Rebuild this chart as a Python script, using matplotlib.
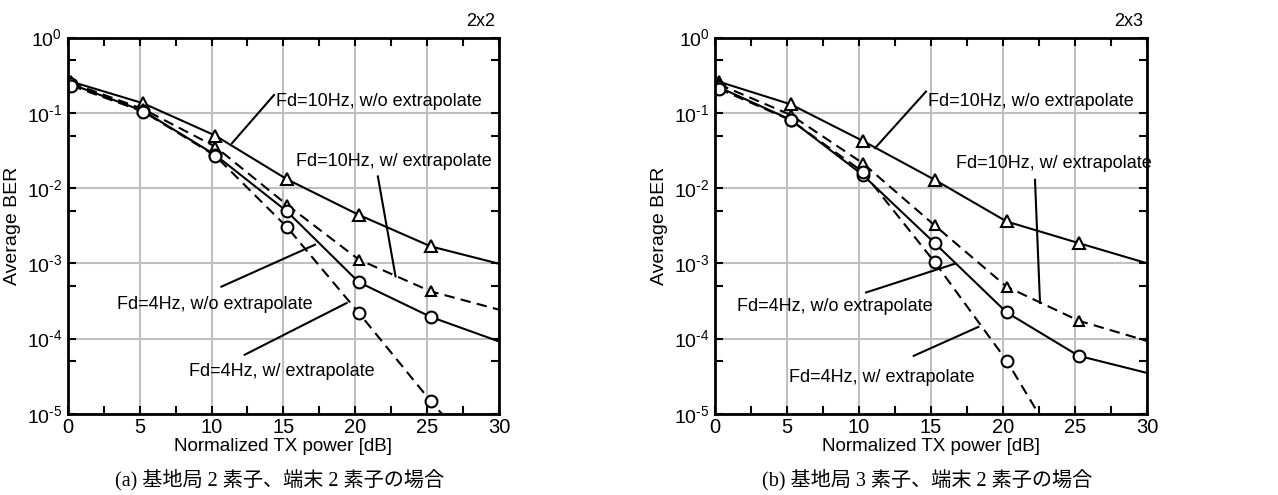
import numpy as np
import matplotlib.pyplot as plt
import matplotlib

plt.rcParams['font.family'] = ['Liberation Sans', 'DejaVu Sans']
plt.rcParams['mathtext.fontset'] = 'custom'
plt.rcParams['mathtext.rm'] = 'Liberation Sans'
plt.rcParams['mathtext.it'] = 'Liberation Sans'

# TX power points (dB); the last point lies past the axis edge
snr = [0.25, 5.25, 10.25, 15.25, 20.25, 25.25, 30.25]

# (a) 2x2
a_10_wo = [0.26, 0.134, 0.050, 0.0131, 0.0044, 0.00168, 0.00096]
a_10_w = [0.25, 0.112, 0.0357, 0.0060, 0.00112, 0.000424, 0.000235]
a_4_wo = [0.24, 0.106, 0.0277, 0.0049, 0.00056, 0.000194, 0.000088]
a_4_w = [0.23, 0.104, 0.027, 0.00303, 0.000219, 0.0000147, 0.0000012]

# (b) 2x3
b_10_wo = [0.26, 0.130, 0.0425, 0.0129, 0.0036, 0.00186, 0.00097]
b_10_w = [0.24, 0.094, 0.0215, 0.0032, 0.00049, 0.000173, 0.000090]
b_4_wo = [0.22, 0.081, 0.015, 0.00186, 0.000223, 0.000059, 0.000034]
b_4_w = [0.21, 0.080, 0.0165, 0.00104, 0.000051, 0.0000013, 0.00000005]

xticks = [0, 5, 10, 15, 20, 25, 30]
yticks = [1e-5, 1e-4, 1e-3, 1e-2, 1e-1, 1e0]
ytick_labels = [r'$10^{\text{-5}}$', r'$10^{\text{-4}}$', r'$10^{\text{-3}}$',
                r'$10^{\text{-2}}$', r'$10^{\text{-1}}$', r'$10^{0}$']

labels = ['Fd=10Hz, w/o extrapolate', 'Fd=10Hz, w/ extrapolate',
          'Fd=4Hz, w/o extrapolate', 'Fd=4Hz, w/ extrapolate']

panels = [
    dict(title='2x2', caption='(a) 基地局 2 素子、端末 2 素子の場合',
         series=[a_10_wo, a_10_w, a_4_wo, a_4_w],
         text=[(14.5, 0.14), (15.9, 0.0225), (3.4, 2.8e-4), (8.4, 3.6e-5)],
         lead=[((14.35, 0.173), (11.43, 0.0396)),
               ((21.57, 0.0143), (22.8, 6.7e-4)),
               ((10.69, 4.9e-4), (17.2, 1.77e-3)),
               ((12.31, 6.1e-5), (19.4, 2.97e-4))]),
    dict(title='2x3', caption='(b) 基地局 3 素子、端末 2 素子の場合',
         series=[b_10_wo, b_10_w, b_4_wo, b_4_w],
         text=[(14.8, 0.14), (16.7, 0.0215), (1.5, 2.7e-4), (5.15, 3.0e-5)],
         lead=[((14.65, 0.192), (11.11, 0.034)),
               ((22.22, 0.0129), (22.57, 2.97e-4)),
               ((10.49, 4.1e-4), (16.67, 9.9e-4)),
               ((13.8, 5.9e-5), (18.29, 1.43e-4))]),
]

styles = [('-', '^', 8), ('--', '^', 7), ('-', 'o', 8.5), ('--', 'o', 8.5)]

fig = plt.figure(figsize=(12.78, 4.95), dpi=100)
positions = [[0.053, 0.164, 0.3375, 0.760], [0.5595, 0.164, 0.338, 0.760]]

for pos, p in zip(positions, panels):
    ax = fig.add_axes(pos)
    for vals, (ls, mk, ms) in zip(p['series'], styles):
        ax.plot(snr, vals, color='black', linestyle=ls, linewidth=1.5,
                marker=mk, markersize=ms, markerfacecolor='white',
                markeredgecolor='black', markeredgewidth=1.5,
                markevery=slice(0, 6),
                dashes=(5, 3) if ls == '--' else (None, None))
    for (start, end), txt, pos_t in zip(p['lead'], labels, p['text']):
        ax.plot([start[0], end[0]], [start[1], end[1]], color='black', linewidth=1.5)
        ax.text(pos_t[0], pos_t[1], txt, fontsize=13, va='center', ha='left')
    ax.set_yscale('log')
    ax.set_xlim(0, 30)
    ax.set_ylim(1e-5, 1)
    ax.set_xticks(xticks)
    ax.set_xticks(np.arange(2.5, 30, 5), minor=True)
    ax.set_yticks(yticks, ytick_labels)
    ax.set_yticks([5 * 10.0 ** k for k in range(-5, 0)], minor=True)
    ax.yaxis.set_minor_formatter(matplotlib.ticker.NullFormatter())
    ax.tick_params(which='both', direction='in', top=True, right=True,
                   width=1.5, length=6, pad=4)
    ax.tick_params(axis='x', labelsize=14.5, pad=3)
    ax.tick_params(axis='y', labelsize=14, pad=4)
    ax.grid(True, which='major', color='#c0c0c0', linewidth=1.5)
    for s in ax.spines.values():
        s.set_linewidth(2)
    ax.set_xlabel('Normalized TX power [dB]', fontsize=13.5, labelpad=1)
    ax.set_ylabel('Average BER', fontsize=14, labelpad=4)
    ax.text(0.99, 1.02, p['title'], transform=ax.transAxes, ha='right',
            va='bottom', fontsize=13)
    fig.text(pos[0] + 0.49 * pos[2], 0.03, p['caption'], ha='center',
             va='center', fontsize=14.5,
             family=['Liberation Serif', 'Noto Sans CJK JP', 'DejaVu Sans'])

fig.savefig('out.png', dpi=100)
